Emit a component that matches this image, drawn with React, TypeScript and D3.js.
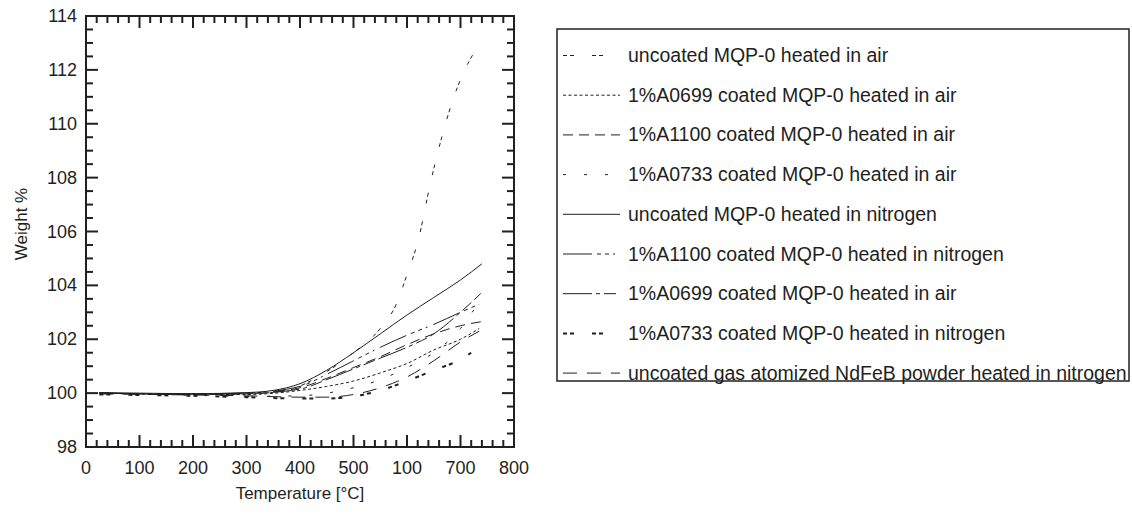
import React from 'react';
import * as d3 from 'd3';

// temperatures (°C) and weight %, one pair per curve
const uncoatedAirT = [25, 100, 200, 300, 380, 450, 500, 550, 580, 600, 620, 645, 665, 686, 708, 727];
const uncoatedAirW = [100.0, 99.98, 99.97, 100.0, 100.15, 100.8, 101.5, 102.4, 103.3, 104.4, 105.6, 107.9, 109.5, 110.9, 112.0, 112.7];

const a0699AirT = [25, 100, 200, 300, 400, 450, 500, 550, 600, 650, 700, 735];
const a0699AirW = [100.0, 99.97, 99.95, 99.95, 100.1, 100.25, 100.45, 100.75, 101.1, 101.6, 102.0, 102.4];

const a1100AirT = [25, 200, 300, 400, 450, 500, 550, 600, 650, 700, 738];
const a1100AirW = [100.0, 99.95, 99.97, 100.2, 100.55, 100.95, 101.35, 101.8, 102.2, 102.5, 102.65];

const a0733AirT = [25, 200, 300, 400, 450, 500, 550, 600, 650, 700, 735];
const a0733AirW = [100.0, 99.92, 99.88, 99.9, 100.0, 100.2, 100.5, 100.95, 101.5, 102.4, 103.4];

const uncoatedN2T = [25, 100, 200, 300, 350, 400, 450, 500, 550, 600, 650, 700, 740];
const uncoatedN2W = [100.02, 100.0, 99.98, 100.02, 100.1, 100.35, 100.85, 101.5, 102.2, 102.9, 103.55, 104.2, 104.8];

const a1100N2T = [25, 200, 300, 400, 450, 500, 550, 600, 650, 700, 735];
const a1100N2W = [100.0, 99.97, 100.0, 100.25, 100.7, 101.2, 101.7, 102.15, 102.55, 103.0, 103.3];

const a0699Air2T = [25, 200, 300, 400, 450, 500, 550, 600, 650, 700, 738];
const a0699Air2W = [100.0, 99.96, 99.98, 100.15, 100.5, 100.9, 101.3, 101.7, 102.2, 103.0, 103.7];

const a0733N2T = [25, 100, 200, 300, 400, 450, 500, 550, 600, 650, 700, 720];
const a0733N2W = [99.95, 99.93, 99.9, 99.85, 99.8, 99.8, 99.88, 100.1, 100.45, 100.85, 101.25, 101.5];

const ndfebN2T = [25, 200, 300, 400, 450, 500, 550, 600, 650, 700, 735];
const ndfebN2W = [99.97, 99.93, 99.9, 99.85, 99.85, 99.95, 100.2, 100.6, 101.2, 101.9, 102.3];

const legendLabels = [
  'uncoated MQP-0 heated in air',
  '1%A0699 coated MQP-0 heated in air',
  '1%A1100 coated MQP-0 heated in air',
  '1%A0733 coated MQP-0 heated in air',
  'uncoated MQP-0 heated in nitrogen',
  '1%A1100 coated MQP-0 heated in nitrogen',
  '1%A0699 coated MQP-0 heated in air',
  '1%A0733 coated MQP-0 heated in nitrogen',
  'uncoated gas atomized NdFeB powder heated in nitrogen',
];

const xTickValues = [0, 100, 200, 300, 400, 500, 600, 700, 800];
const xTickLabels = ['0', '100', '200', '300', '400', '500', '100', '700', '800'];
const yTickValues = [98, 100, 102, 104, 106, 108, 110, 112, 114];

const seriesT = [uncoatedAirT, a0699AirT, a1100AirT, a0733AirT, uncoatedN2T, a1100N2T, a0699Air2T, a0733N2T, ndfebN2T];
const seriesW = [uncoatedAirW, a0699AirW, a1100AirW, a0733AirW, uncoatedN2W, a1100N2W, a0699Air2W, a0733N2W, ndfebN2W];

// line styles, same order as the legend
const styles = [
  { dash: '4,3,4,18', width: 1 },
  { dash: '3,2.5', width: 1 },
  { dash: '10,6', width: 1 },
  { dash: '3,18', width: 1 },
  { dash: null, width: 1 },
  { dash: '29,5,4,4,4,4,2,6', width: 1 },
  { dash: '29,4,4,4,12,4', width: 1 },
  { dash: '4,3,4,18', width: 2 },
  { dash: '14,10', width: 1 },
];

const W = 1132;
const H = 523;
const ink = '#231f20';
const font = '"Liberation Sans", Arial, Helvetica, sans-serif';

export default function App() {
  const x = d3.scaleLinear().domain([0, 800]).range([86, 514]);
  const y = d3.scaleLinear().domain([98, 114]).range([447, 16]);
  const [x0, x1] = x.range();
  const [y0, y1] = y.range();

  const line = d3
    .line<[number, number]>()
    .x((d) => x(d[0]))
    .y((d) => y(d[1]))
    .curve(d3.curveMonotoneX);

  const xMinor = d3.range(0, 801, 20);
  const yMinor = d3.range(98, 114.01, 0.5);

  const legX = 557;
  const legY = 29;
  const legRight = 1129;
  const legBottom = 381;
  const rowY = (i: number) => 55.5 + i * 39.7;

  return (
    <svg width={W} height={H} style={{ position: 'absolute', left: 0, top: 0, background: '#fff' }} fontFamily={font}>
      {/* curves */}
      <g fill="none" stroke={ink}>
        {seriesT.map((ts, i) => (
          <path
            key={i}
            d={line(ts.map((t, j) => [t, seriesW[i][j]]) as [number, number][]) || ''}
            strokeWidth={styles[i].width}
            strokeDasharray={styles[i].dash || undefined}
          />
        ))}
      </g>

      {/* ticks on all four sides, pointing inward */}
      <g stroke={ink} strokeWidth={2}>
        {xMinor.map((v) => {
          const major = v % 100 === 0;
          const len = major ? 12 : 7;
          return (
            <g key={'x' + v}>
              <line x1={x(v)} x2={x(v)} y1={y0} y2={y0 - len} />
              <line x1={x(v)} x2={x(v)} y1={y1} y2={y1 + len} />
            </g>
          );
        })}
        {yMinor.map((v) => {
          const major = Math.abs(v % 2) < 1e-6;
          const len = major ? 12 : 7;
          return (
            <g key={'y' + v}>
              <line x1={x0} x2={x0 + len} y1={y(v)} y2={y(v)} />
              <line x1={x1} x2={x1 - len} y1={y(v)} y2={y(v)} />
            </g>
          );
        })}
        <rect x={x0} y={y1} width={x1 - x0} height={y0 - y1} fill="none" />
      </g>

      {/* tick labels */}
      <g fill={ink} fontSize={18}>
        {xTickValues.map((v, i) => (
          <text key={v} x={x(v)} y={y0 + 27} textAnchor="middle">
            {xTickLabels[i]}
          </text>
        ))}
        {yTickValues.map((v) => (
          <text key={v} x={x0 - 9} y={y(v) + 6} textAnchor="end">
            {v}
          </text>
        ))}
      </g>

      {/* axis titles */}
      <text x={(x0 + x1) / 2} y={499} textAnchor="middle" fontSize={17} fill={ink}>
        Temperature [°C]
      </text>
      <text transform={`translate(27,${224}) rotate(-90)`} textAnchor="middle" fontSize={17} fill={ink}>
        Weight %
      </text>

      {/* legend */}
      <rect x={legX} y={legY} width={legRight - legX} height={legBottom - legY} fill="none" stroke={ink} strokeWidth={1.5} />
      {legendLabels.map((label, i) => (
        <g key={i}>
          <line
            x1={legX + 6}
            x2={legX + 63}
            y1={rowY(i)}
            y2={rowY(i)}
            stroke={ink}
            strokeWidth={styles[i].width}
            strokeDasharray={styles[i].dash || undefined}
          />
          <text x={legX + 71} y={rowY(i) + 6.5} fontSize={19.5} fill={ink}>
            {label}
          </text>
        </g>
      ))}
    </svg>
  );
}
